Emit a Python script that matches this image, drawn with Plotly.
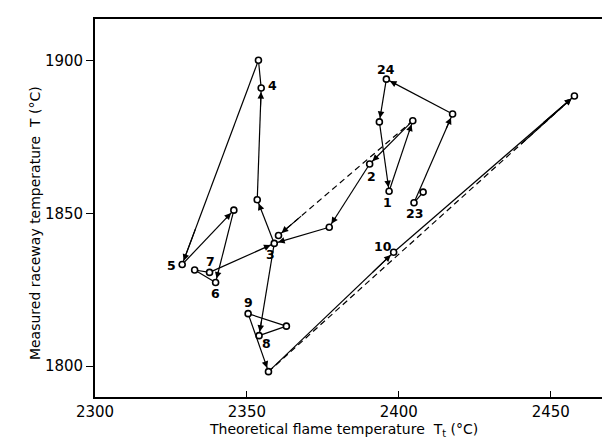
import plotly.graph_objects as go

# ---- data ----
point_ids = ["22.5", "23", "23.5", "24", "0.5", "1", "1.5", "2", "2.5", "3",
             "3.5", "4", "4.5", "5", "5.5", "6", "6.5", "7", "8", "8.5",
             "9", "9.5", "10", "10.5", "d1"]
flame_temp = [2408.0, 2405.0, 2417.7, 2395.9, 2393.6, 2396.8, 2404.6, 2390.4, 2377.1, 2359.0,
              2353.4, 2354.7, 2353.8, 2328.7, 2345.7, 2339.7, 2332.8, 2337.7, 2354.0, 2363.0,
              2350.4, 2357.1, 2398.3, 2457.8, 2360.4]
raceway_temp = [1857.0, 1853.5, 1882.6, 1894.0, 1880.0, 1857.3, 1880.4, 1866.2, 1845.5, 1840.2,
                1854.5, 1891.1, 1900.2, 1833.3, 1851.1, 1827.4, 1831.5, 1830.7, 1810.0, 1813.1,
                1817.2, 1798.2, 1837.3, 1888.5, 1842.8]
# (from index, to index, arrowhead at "to")
solid_links = [(0, 1, False), (1, 2, True), (2, 3, True), (3, 4, True), (4, 5, True),
               (5, 6, True), (6, 7, True), (7, 8, True), (8, 9, True), (9, 10, True),
               (10, 11, True), (11, 12, True), (12, 13, True), (13, 14, True), (14, 15, True),
               (15, 16, True), (17, 16, True), (17, 9, True), (9, 18, True), (18, 19, True),
               (19, 20, True), (20, 21, True), (21, 22, True), (22, 23, True)]
dashed_links = [(6, 24), (21, 23)]
label_text = ["24", "2", "1", "23", "10", "4", "3", "7", "5", "6", "9", "8"]
label_point = [3, 7, 5, 1, 22, 11, 9, 17, 13, 15, 20, 18]

x_ticks = [2300, 2350, 2400, 2450]
y_ticks = [1800, 1850, 1900]

# ---- styling / placement (pixels) ----
label_shift = {"24": (0, 10), "2": (2, -12), "1": (-2, -11), "23": (0, -11),
               "10": (-11, 6), "4": (11, 3), "3": (-4, -11), "7": (1, 11),
               "5": (-11, -1), "6": (0, -11), "9": (0, 11), "8": (7, -8)}

fig = go.Figure()

def seg_xy(links):
    xs, ys = [], []
    for lk in links:
        a, b = lk[0], lk[1]
        xs += [flame_temp[a], flame_temp[b], None]
        ys += [raceway_temp[a], raceway_temp[b], None]
    return xs, ys

sx, sy = seg_xy(solid_links)
fig.add_trace(go.Scatter(x=sx, y=sy, mode="lines", line=dict(color="black", width=1.2),
                         hoverinfo="skip", showlegend=False))
dx, dy = seg_xy(dashed_links)
fig.add_trace(go.Scatter(x=dx, y=dy, mode="lines",
                         line=dict(color="black", width=1.2, dash="6px,4px"),
                         hoverinfo="skip", showlegend=False))
fig.add_trace(go.Scatter(x=flame_temp, y=raceway_temp, mode="markers", text=point_ids,
                         marker=dict(symbol="circle", size=6, color="white",
                                     line=dict(color="black", width=1.6)),
                         showlegend=False))

annotations = []
arrow_links = [(a, b) for a, b, h in solid_links if h] + dashed_links
for a, b in arrow_links:
    xb, yb = flame_temp[b], raceway_temp[b]
    xa = xb + 0.18 * (flame_temp[a] - xb)
    ya = yb + 0.18 * (raceway_temp[a] - yb)
    annotations.append(dict(x=xb, y=yb, ax=xa, ay=ya, xref="x", yref="y",
                            axref="x", ayref="y", text="", showarrow=True,
                            arrowhead=2, arrowsize=1.2, arrowwidth=1.1,
                            arrowcolor="black", standoff=4))

for t, p in zip(label_text, label_point):
    xs_, ys_ = label_shift[t]
    annotations.append(dict(x=flame_temp[p], y=raceway_temp[p], xref="x", yref="y",
                            text=t, showarrow=False, xshift=xs_, yshift=ys_,
                            font=dict(family="DejaVu Sans", size=12.5, color="black",
                                      weight="bold")))

annotations.append(dict(x=0.48, y=0, xref="paper", yref="paper", yshift=-33,
                        text="Theoretical flame temperature  T<sub>t</sub> (°C)",
                        showarrow=False, yanchor="middle",
                        font=dict(family="DejaVu Sans", size=14, color="black")))
annotations.append(dict(x=0, y=0.46, xref="paper", yref="paper", xshift=-60,
                        text="Measured raceway temperature  T (°C)", textangle=-90,
                        showarrow=False, xanchor="center",
                        font=dict(family="DejaVu Sans", size=14, color="black")))

fig.update_layout(
    width=610, height=439,
    margin=dict(l=87, r=3, t=11, b=50),
    paper_bgcolor="white", plot_bgcolor="white",
    annotations=annotations,
    xaxis=dict(range=[2300, 2470.5], tickvals=x_ticks, ticks="inside", ticklen=6,
               tickwidth=1.3, tickcolor="black", showline=True, linecolor="black",
               linewidth=1.8, mirror=True, showgrid=False, zeroline=False,
               tickfont=dict(family="DejaVu Sans", size=15, color="black")),
    yaxis=dict(range=[1789.9, 1913.7], tickvals=y_ticks, ticks="outside", ticklen=7,
               tickwidth=1.3, tickcolor="black", showline=True, linecolor="black",
               linewidth=1.8, mirror=True, showgrid=False, zeroline=False,
               tickfont=dict(family="DejaVu Sans", size=15, color="black")),
)

fig.write_html("out.html")
